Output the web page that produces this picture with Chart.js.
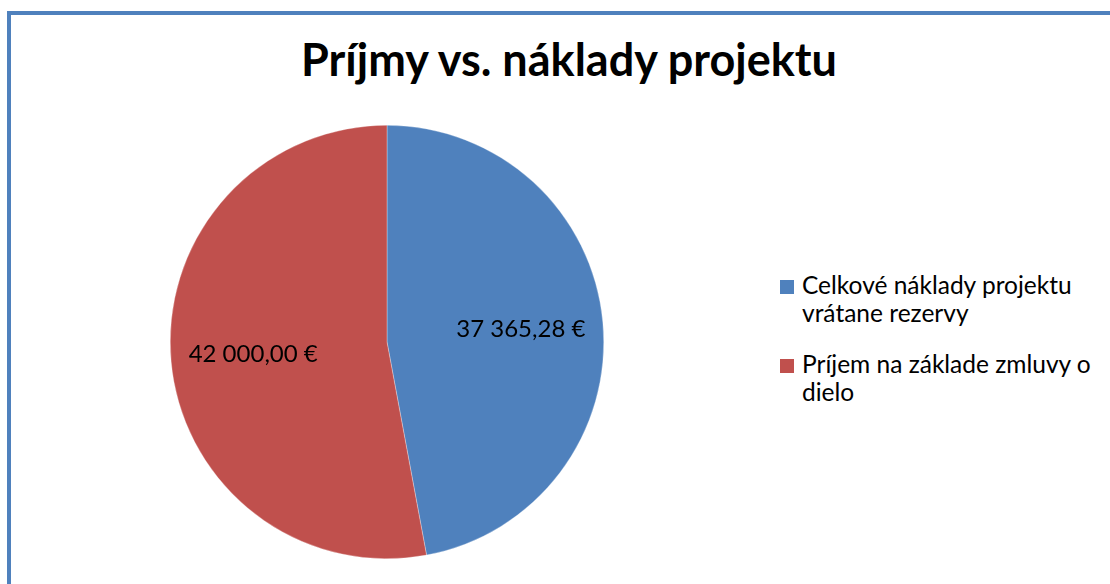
<!DOCTYPE html>
<html>
<head>
<meta charset="utf-8">
<script src="https://cdn.jsdelivr.net/npm/chart.js@4"></script>
<style>
  html, body { margin: 0; padding: 0; background: #fff; overflow: hidden; }
  body { width: 1110px; height: 584px; position: relative; font-family: Lato, "Open Sans", sans-serif; }
  #frame {
    position: absolute; left: 7px; top: 11px; width: 1200px; height: 700px;
    border: 4px solid #4F81BD; box-sizing: border-box;
  }
  #title {
    position: absolute; left: 28px; width: 1082px; top: 32px;
    text-align: center; font-weight: bold; font-size: 45px; line-height: 54px; color: #000;
  }
  #pie-wrap { position: absolute; left: 160px; top: 115px; width: 454px; height: 454px; }
  #legend { position: absolute; left: 780px; top: 271px; }
  .item { position: relative; padding-left: 22px; font-size: 24.5px; line-height: 28px; margin-bottom: 23px; color: #000; }
  .item .box { position: absolute; left: 0; top: 9px; width: 14px; height: 14px; }
</style>
</head>
<body>
<div id="frame"></div>
<div id="title">Príjmy vs. náklady projektu</div>
<div id="pie-wrap"><canvas id="pie"></canvas></div>
<div id="legend"></div>
<script>
// Slice order: blue first (starts at 12 o'clock, clockwise)
const categories = [
  ["Celkové náklady projektu", "vrátane rezervy"],
  ["Príjem na základe zmluvy o", "dielo"],
];
const values = [37365.28, 42000.0];
const colors = ["#4F81BD", "#C0504D"];

const fmt = (v) =>
  v.toFixed(2).replace(".", ",").replace(/\B(?=(\d{3})+(?!\d))/g, " ") + " €";

// labels sit about 0.62 of the radius out from the centre
const valueLabels = {
  id: "valueLabels",
  afterDatasetsDraw(chart) {
    const { ctx } = chart;
    const meta = chart.getDatasetMeta(0);
    ctx.save();
    ctx.font = "24px Lato, sans-serif";
    ctx.fillStyle = "#000";
    ctx.textAlign = "center";
    ctx.textBaseline = "middle";
    meta.data.forEach((arc, i) => {
      const { x, y, startAngle, endAngle, outerRadius } = arc.getProps(
        ["x", "y", "startAngle", "endAngle", "outerRadius"], true);
      const mid = (startAngle + endAngle) / 2;
      const r = outerRadius * 0.62;
      ctx.fillText(fmt(values[i]), x + Math.cos(mid) * r, y + Math.sin(mid) * r);
    });
    ctx.restore();
  },
};

const chart = new Chart(document.getElementById("pie"), {
  type: "pie",
  data: {
    labels: categories.map((c) => c.join(" ")),
    datasets: [
      {
        data: values,
        backgroundColor: colors,
        borderColor: "rgba(255,255,255,0.6)",
        borderWidth: 0.5,
      },
    ],
  },
  options: {
    responsive: true,
    maintainAspectRatio: false,
    animation: false,
    layout: { padding: 10 },
    plugins: {
      legend: { display: false },
      tooltip: { enabled: false },
      title: { display: false },
    },
  },
  plugins: [valueLabels],
});

// html legend so the labels can wrap like the original
const legend = document.getElementById("legend");
categories.forEach((lines, i) => {
  const item = document.createElement("div");
  item.className = "item";
  const box = document.createElement("span");
  box.className = "box";
  box.style.background = chart.data.datasets[0].backgroundColor[i];
  item.appendChild(box);
  lines.forEach((line, j) => {
    if (j > 0) item.appendChild(document.createElement("br"));
    item.appendChild(document.createTextNode(line));
  });
  legend.appendChild(item);
});
</script>
</body>
</html>
